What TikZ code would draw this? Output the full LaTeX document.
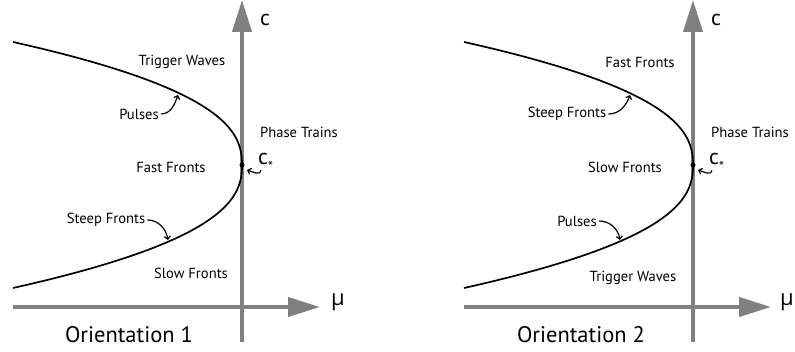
\documentclass[tikz,border=0pt]{standalone}
\usepackage{fontspec}
\setmainfont{PT Sans}
\newfontfamily\greekfont{Open Sans}
\usetikzlibrary{arrows.meta}

\tikzset{
  axis/.style={black!50,line width=4pt,-{Triangle[length=32pt,width=19pt]}},
  branch/.style={line width=1.7pt,domain=-1:1,samples=80,smooth,variable=\t},
  lbl/.style={font=\fontsize{14.6}{16}\selectfont,inner sep=0pt},
  axlbl/.style={font=\fontsize{22}{24}\selectfont,inner sep=0pt},
  title/.style={font=\fontsize{22.5}{25}\selectfont,inner sep=0pt},
  pointer/.style={line width=1.2pt,-{Straight Barb[length=3pt,width=6pt]}},
  dot/.style={circle,fill,inner sep=0pt,minimum size=5pt},
}

\begin{document}
\begin{tikzpicture}[x=1pt,y=1pt]
\useasboundingbox (0,0) rectangle (795,352);
% ---- orientation 1
\coordinate (h1a) at (13,45);
\coordinate (h1b) at (320,45);
\coordinate (v1a) at (242,10);
\coordinate (v1b) at (242,352);
\draw[axis] (h1a) -- (h1b);
\draw[axis] (v1a) -- (v1b);
\draw[branch] plot ({242-229*pow(abs(\t),2.4)},{187+123*\t});
\node[dot] (cs1) at (242,187) {};
\node[axlbl] (c1) at (265,332) {c};
\node[axlbl] (mu1) at (338,50) {\greekfont μ};
\node[axlbl,anchor=west] (cst1) at (258,190) {c\raisebox{-7pt}{\fontsize{14}{14}\selectfont *}};
\node[lbl] (tw1) at (182,290) {Trigger Waves};
\node[lbl] (pu1) at (139,238) {Pulses};
\node[lbl] (pt1) at (299,220) {Phase Trains};
\node[lbl] (ff1) at (171,185) {Fast Fronts};
\node[lbl] (sf1) at (106,132) {Steep Fronts};
\node[lbl] (sl1) at (191,79) {Slow Fronts};
\node[title] (or1) at (129,17) {Orientation 1};
\coordinate (pu1t) at (178,257);
\coordinate (sf1t) at (168,112);
\coordinate (cs1t) at (247,182);
\draw[pointer] ([xshift=2pt]pu1.east) to[out=0,in=-110] (pu1t);
\draw[pointer] ([xshift=2pt]sf1.east) to[out=0,in=100] (sf1t);
\draw[pointer] ([xshift=3pt,yshift=1pt]cst1.south west) to[out=-90,in=-20] (cs1t);
% ---- orientation 2
\begin{scope}[xshift=451pt]
\coordinate (h2a) at (13,45);
\coordinate (h2b) at (320,45);
\coordinate (v2a) at (242,10);
\coordinate (v2b) at (242,352);
\draw[axis] (h2a) -- (h2b);
\draw[axis] (v2a) -- (v2b);
\draw[branch] plot ({242-229*pow(abs(\t),2.4)},{187+123*\t});
\node[dot] (cs2) at (242,187) {};
\node[axlbl] (c2) at (265,332) {c};
\node[axlbl] (mu2) at (336,50) {\greekfont μ};
\node[axlbl,anchor=west] (cst2) at (258,190) {c\raisebox{-7pt}{\fontsize{14}{14}\selectfont *}};
\node[lbl] (ff2) at (189,290) {Fast Fronts};
\node[lbl] (sf2) at (116,238) {Steep Fronts};
\node[lbl] (pt2) at (299,220) {Phase Trains};
\node[lbl] (sl2) at (174,185) {Slow Fronts};
\node[lbl] (pu2) at (126,131) {Pulses};
\node[lbl] (tw2) at (182,74) {Trigger Waves};
\node[title] (or2) at (130,17) {Orientation 2};
\coordinate (sf2t) at (179,257);
\coordinate (pu2t) at (169,112);
\coordinate (cs2t) at (247,182);
\draw[pointer] ([xshift=2pt]sf2.east) to[out=0,in=-110] (sf2t);
\draw[pointer] ([xshift=2pt]pu2.east) to[out=0,in=100] (pu2t);
\draw[pointer] ([xshift=3pt,yshift=1pt]cst2.south west) to[out=-90,in=-20] (cs2t);
\end{scope}
\end{tikzpicture}
\end{document}
